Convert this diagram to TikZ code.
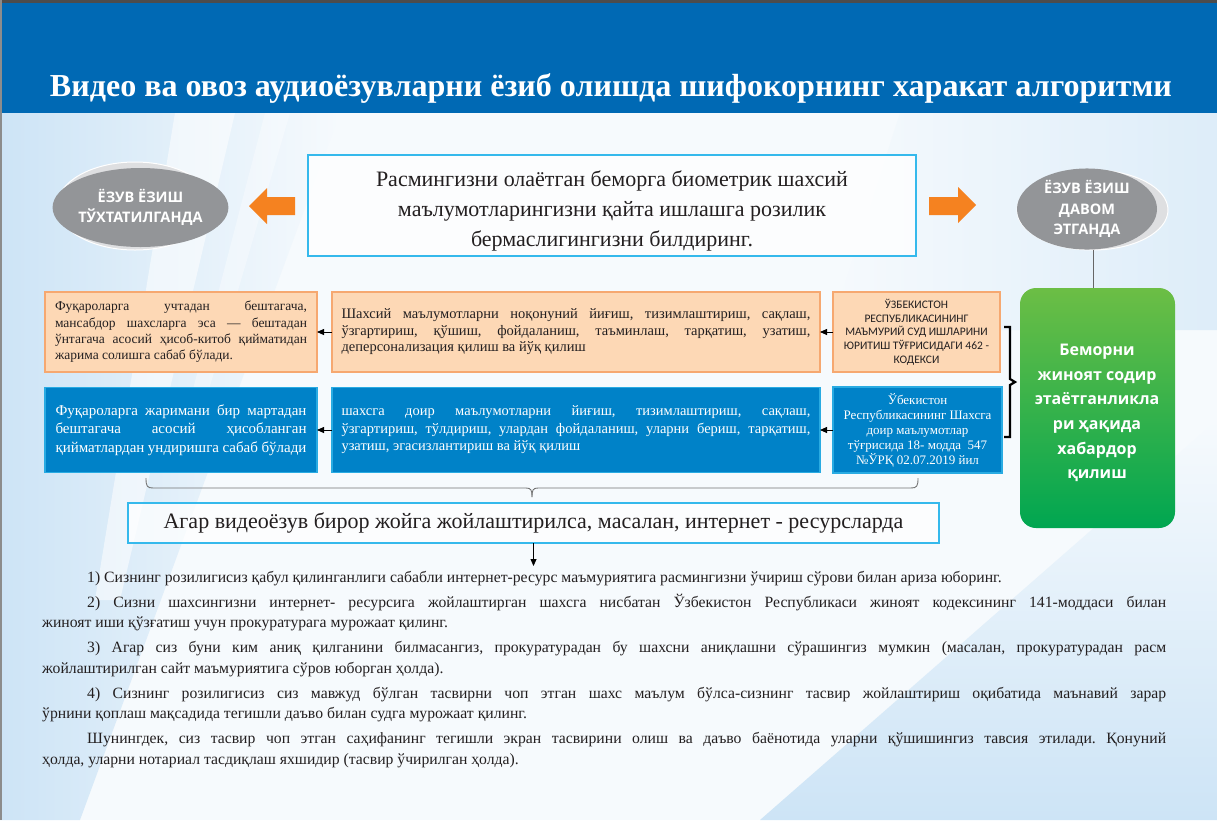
\documentclass[tikz,border=0pt]{standalone}
\usepackage{fontspec}
\usepackage{graphicx}
\setmainfont{Liberation Serif}
\newfontfamily\osans{Open Sans}
\newfontfamily\carl{Carlito}
\usetikzlibrary{arrows.meta,shapes.geometric}
\definecolor{band}{RGB}{0,105,180}
\definecolor{boxblue}{RGB}{0,130,200}
\definecolor{cyanline}{RGB}{53,185,236}
\definecolor{blueline}{RGB}{41,171,226}
\definecolor{peach}{RGB}{253,216,181}
\definecolor{peachline}{RGB}{246,168,112}
\definecolor{orangearr}{RGB}{245,130,32}
\definecolor{ellgray}{RGB}{147,149,152}
\definecolor{rimgray}{RGB}{222,223,225}
\definecolor{greentop}{RGB}{108,190,69}
\definecolor{greenbot}{RGB}{0,166,81}
\definecolor{bgblue}{RGB}{205,228,246}
\definecolor{bgwhite}{RGB}{246,250,253}
\definecolor{txt}{RGB}{35,31,32}
\newcommand\JL[2]{\makebox[#1][s]{#2}}
\newcommand\LL[2]{\makebox[#1][l]{#2}}
\newcommand\FitW[2]{\resizebox{#1}{\height}{#2}}
\frenchspacing
\tikzset{
  peachbox/.style={draw=peachline, line width=1.2pt, fill=peach, inner sep=0pt, outer sep=0pt, align=center, text=txt},
  bluebox/.style={draw=blueline, line width=1.2pt, fill=boxblue, inner sep=0pt, outer sep=0pt, align=center, text=white},
  framebox/.style={draw=cyanline, line width=1.6pt, fill=white, fill opacity=0.75, text opacity=1, inner sep=0pt, outer sep=0pt, align=center, text=txt},
  darkell/.style={ellipse, fill=ellgray, inner sep=0pt, outer sep=0pt, align=center, text=white, font=\osans\bfseries\fontsize{14.5}{20.5}\selectfont},
  rimell/.style={ellipse, fill=rimgray, draw=white, line width=1pt, inner sep=0pt},
  plaintext/.style={inner sep=0pt, outer sep=0pt, align=center},
  conn/.style={-{Triangle[length=7pt,width=6pt]}, line width=0.8pt, black},
  orangearrow/.style={fill=orangearr},
}
\begin{document}
\begin{tikzpicture}[x=1pt,y=-1pt]
\useasboundingbox (0,0) rectangle (1217,820);
% background
\fill[bgwhite] (0,0) rectangle (1217,820);
\shade[left color=bgblue, right color=bgwhite] (0,113) -- (340,113) -- (80,820) -- (0,820) -- cycle;
\fill[white, opacity=0.55] (175,113) -- (235,113) -- (120,600) -- (95,600) -- cycle;
\fill[white, opacity=0.35] (265,113) -- (290,113) -- (200,420) -- (185,420) -- cycle;
\shade[top color=bgwhite, bottom color=bgblue] (1217,420) -- (1217,820) -- (760,820) -- cycle;
\shade[left color=bgwhite, right color=bgblue!60!bgwhite] (900,113) -- (1217,113) -- (1217,330) -- (830,330) -- cycle;
% header band
\fill[band] (0,3) rectangle (1217,113);
\draw[black!70, line width=3pt] (0,1.5) -- (1217,1.5);
\draw[black!45, line width=2pt] (1,0) -- (1,820);
\node[anchor=base, inner sep=0pt, text=white, font=\bfseries\fontsize{32}{36}\selectfont] (title) at (611,96)
  {\FitW{1122pt}{Видео ва овоз аудиоёзувларни ёзиб олишда шифокорнинг харакат алгоритми}};

% top message box
\node[framebox, minimum width=608pt, minimum height=101pt] (msg) at (612,205.5) {};
\node[plaintext, text=txt, font=\fontsize{22}{30}\selectfont] (msgtext) at (612,211)
  {Расмингизни олаётган беморга биометрик шахсий\\маълумотларингизни қайта ишлашга розилик\\бермаслигингизни билдиринг.};

% left ellipse
\node[rimell, minimum width=156pt, minimum height=88pt] (rimL) at (135,206) {};
\node[darkell, minimum width=145pt, minimum height=79pt] (ellL) at (140.5,207.5) {ЁЗУВ ЁЗИШ\\ТЎХТАТИЛГАНДА};
% right ellipse
\node[rimell, minimum width=151pt, minimum height=80pt] (rimR) at (1092.5,210) {};
\node[darkell, minimum width=140pt, minimum height=76pt] (ellR) at (1087,209) {ЁЗУВ ЁЗИШ\\ДАВОМ\\ЭТГАНДА};

% orange block arrows
\fill[orangearrow] (249,206) -- (267,188) -- (267,197) -- (295,197) -- (295,215) -- (267,215) -- (267,224) -- cycle;
\fill[orangearrow] (976,205) -- (958,187) -- (958,197) -- (929,197) -- (929,215) -- (958,215) -- (958,223) -- cycle;

% green box
\node[rounded corners=16pt, top color=greentop, bottom color=greenbot, minimum width=155pt, minimum height=240pt,
      inner sep=0pt, outer sep=0pt] (green) at (1097.5,408) {};
\node[plaintext, text=white, font=\osans\bfseries\fontsize{16}{24.6}\selectfont] (greentext) at (1097,413)
  {Беморни\\жиноят содир\\этаётганликла\\ри ҳақида\\хабардор\\қилиш};
\draw[black!60, line width=1pt] (ellR.south -| 1093,0) -- (green.north -| 1093,0);

% row 1
\node[peachbox, minimum width=272pt, minimum height=80pt, font=\fontsize{13.5}{16.3}\selectfont] (A) at (181,332)
  {\JL{252pt}{Фуқароларга учтадан бештагача,}\\
   \JL{252pt}{мансабдор шахсларга эса — бештадан}\\
   \JL{252pt}{ўнтагача асосий ҳисоб-китоб қийматидан}\\
   \LL{252pt}{жарима солишга сабаб бўлади.}};
\node[peachbox, minimum width=488pt, minimum height=80pt, font=\fontsize{14.5}{16.5}\selectfont] (B) at (576,332)
  {\JL{469pt}{Шахсий маълумотларни ноқонуний йиғиш, тизимлаштириш, сақлаш,}\\
   \JL{469pt}{ўзгартириш, қўшиш, фойдаланиш, таъминлаш, тарқатиш, узатиш,}\\
   \LL{469pt}{деперсонализация қилиш ва йўқ қилиш}};
\node[peachbox, minimum width=167pt, minimum height=80pt, font=\carl\fontsize{11.5}{13.7}\selectfont] (C) at (916.5,332)
  {ЎЗБЕКИСТОН\\РЕСПУБЛИКАСИНИНГ\\МАЪМУРИЙ СУД ИШЛАРИНИ\\ЮРИТИШ ТЎҒРИСИДАГИ 462 -\\КОДЕКСИ};

% row 2
\node[bluebox, minimum width=272pt, minimum height=85pt, font=\fontsize{15}{18.5}\selectfont] (D) at (181,430)
  {\JL{251pt}{Фуқароларга жаримани бир мартадан}\\
   \JL{251pt}{бештагача асосий ҳисобланган}\\
   \JL{251pt}{қийматлардан ундиришга сабаб бўлади}};
\node[bluebox, minimum width=488pt, minimum height=85pt, font=\fontsize{14.5}{17.5}\selectfont] (E) at (576,430)
  {\JL{469pt}{шахсга доир маълумотларни йиғиш, тизимлаштириш, сақлаш,}\\
   \JL{469pt}{ўзгартириш, тўлдириш, улардан фойдаланиш, уларни бериш, тарқатиш,}\\
   \LL{469pt}{узатиш, эгасизлантириш ва йўқ қилиш}};
\node[bluebox, minimum width=169pt, minimum height=86pt, font=\fontsize{13}{15}\selectfont] (F) at (917.5,430)
  {Ўбекистон\\Республикасининг Шахсга\\доир маълумотлар\\тўғрисида 18- модда~~547\\№ЎРҚ 02.07.2019 йил};

% connectors
\draw[conn] (C.west) -- (B.east);
\draw[conn] (B.west) -- (A.east);
\draw[conn] (F.west) -- (E.east);
\draw[conn] (E.west) -- (D.east);

% bracket to green box
\draw[line width=2.2pt, line join=miter] (1004,327) -- (1010,327) -- (1010,379) -- (1015,382) -- (1010,385) -- (1010,437) -- (1004,437);

% lower brace
\draw[black!55, line width=0.9pt] (146,478) .. controls (146,486) and (147,488) .. (153,488) -- (526,488) .. controls (531,488) and (532,490) .. (532,497);
\draw[black!55, line width=0.9pt] (918,478) .. controls (918,486) and (917,488) .. (911,488) -- (538,488) .. controls (533,488) and (532,490) .. (532,497);

% "if placed" box
\node[framebox, minimum width=811pt, minimum height=40pt, font=\fontsize{22}{24}\selectfont] (agar) at (533.5,523)
  {Агар видеоёзув бирор жойга жойлаштирилса, масалан, интернет - ресурсларда};
\coordinate (agarEnd) at (533.5,566);
\draw[conn] (agar.south) -- (agarEnd);

% bottom paragraphs
\node[anchor=north west, inner sep=0pt, align=left, text=txt, font=\fontsize{15.7}{20.5}\selectfont] (para) at (42,571)
  {\hspace*{45pt}1) Сизнинг розилигисиз қабул қилинганлиги сабабли интернет-ресурс маъмуриятига расмингизни ўчириш сўрови билан ариза юборинг.\\[4.5pt]
   \hspace*{45pt}\JL{1079pt}{2) Сизни шахсингизни интернет- ресурсига жойлаштирган шахсга нисбатан Ўзбекистон Республикаси жиноят кодексининг 141-моддаси билан}\\
   жиноят иши қўзғатиш учун прокуратурага мурожаат қилинг.\\[4.5pt]
   \hspace*{45pt}\JL{1079pt}{3) Агар сиз буни ким аниқ қилганини билмасангиз, прокуратурадан бу шахсни аниқлашни сўрашингиз мумкин (масалан, прокуратурадан расм}\\
   жойлаштирилган сайт маъмуриятига сўров юборган ҳолда).\\[4.5pt]
   \hspace*{45pt}\JL{1079pt}{4) Сизнинг розилигисиз сиз мавжуд бўлган тасвирни чоп этган шахс маълум бўлса-сизнинг тасвир жойлаштириш оқибатида маънавий зарар}\\
   ўрнини қоплаш мақсадида тегишли даъво билан судга мурожаат қилинг.\\[4.5pt]
   \hspace*{45pt}\JL{1079pt}{Шунингдек, сиз тасвир чоп этган саҳифанинг тегишли экран тасвирини олиш ва даъво баёнотида уларни қўшишингиз тавсия этилади. Қонуний}\\
   ҳолда, уларни нотариал тасдиқлаш яхшидир (тасвир ўчирилган ҳолда).};
\end{tikzpicture}
\end{document}
